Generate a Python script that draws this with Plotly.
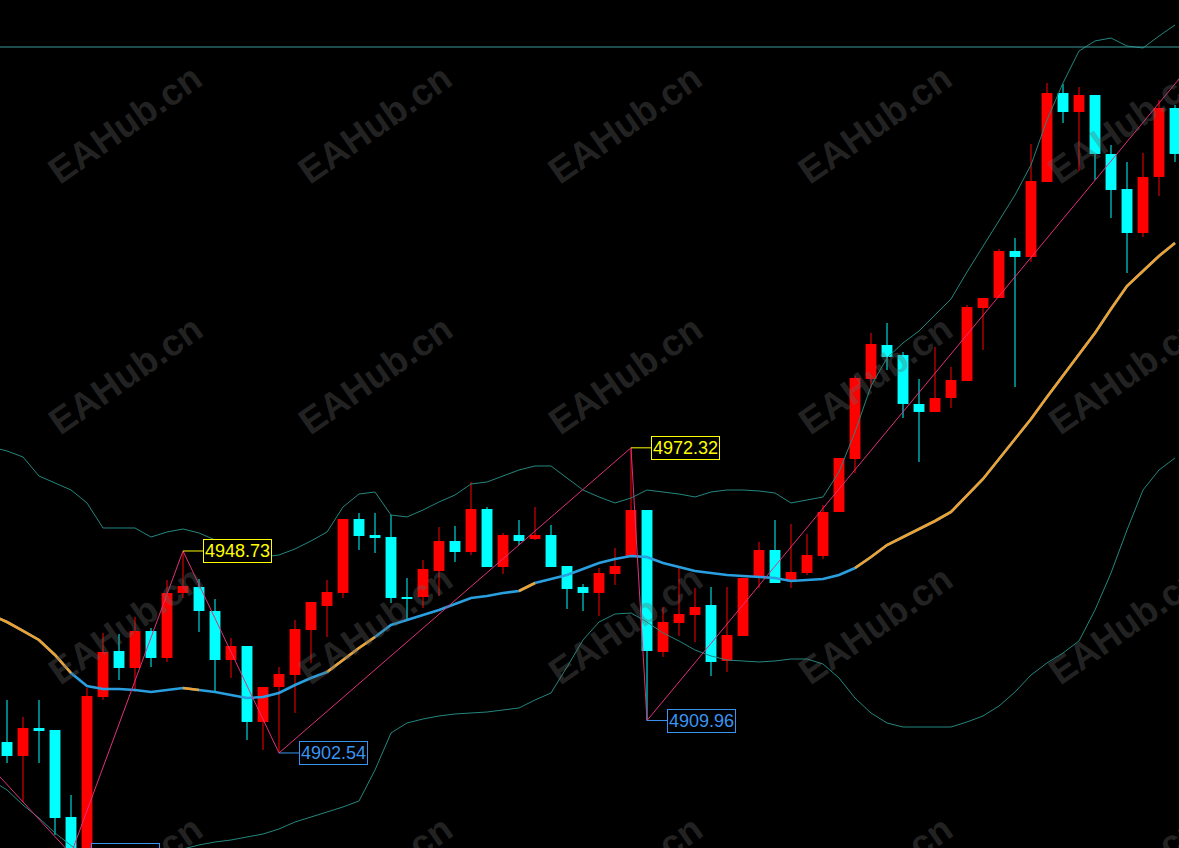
import plotly.graph_objects as go

# ---------------- data ----------------
candle_index = list(range(74))
opens = [4905.05, 4901.85, 4908.25, 4907.80, 4887.90, 4880.35, 4915.34, 4925.86, 4921.97, 4930.44,
         4924.26, 4939.13, 4940.50, 4935.01, 4923.80, 4927.01, 4909.63, 4917.63, 4920.37, 4930.66,
         4936.15, 4939.13, 4956.05, 4952.39, 4951.93, 4938.21, 4938.21, 4944.16, 4951.02, 4948.50,
         4958.33, 4945.07, 4952.39, 4951.47, 4952.39, 4945.30, 4940.50, 4939.13, 4943.47, 4947.59,
         4958.11, 4925.63, 4932.27, 4934.09, 4936.38, 4923.58, 4929.29, 4943.01, 4948.96, 4942.10,
         4943.70, 4947.59, 4957.65, 4969.77, 4988.06, 4995.84, 4993.55, 4982.35, 4980.52, 4983.72,
         4987.61, 5004.30, 5006.59, 5017.33, 5015.96, 5033.11, 5053.47, 5049.12, 5053.01, 5039.52,
         5031.51, 5021.45, 5034.26, 5050.04]
highs = [4914.66, 4910.77, 4914.66, 4907.80, 4892.93, 4917.40, 4929.98, 4929.75, 4933.64, 4931.12,
         4942.10, 4948.73, 4942.33, 4937.75, 4928.83, 4927.01, 4917.63, 4922.20, 4932.95, 4937.07,
         4942.10, 4956.05, 4957.42, 4957.42, 4956.96, 4942.56, 4946.67, 4954.22, 4954.45, 4964.51,
         4958.79, 4952.85, 4955.82, 4958.79, 4954.68, 4945.30, 4941.18, 4944.84, 4949.42, 4972.32,
         4958.11, 4935.92, 4944.84, 4940.27, 4940.50, 4940.50, 4942.56, 4950.79, 4955.82, 4954.90,
         4952.62, 4959.25, 4970.00, 4988.75, 4998.58, 5000.87, 4994.24, 4988.06, 4995.38, 4990.81,
         5004.99, 5006.59, 5017.79, 5020.31, 5041.80, 5055.75, 5055.52, 5054.84, 5053.01, 5041.57,
         5037.69, 5039.75, 5051.87, 5050.72]
lows = [4900.25, 4891.33, 4900.25, 4883.79, 4879.44, 4879.90, 4914.66, 4919.23, 4916.49, 4922.20,
        4923.35, 4937.98, 4930.21, 4916.26, 4919.69, 4905.51, 4903.22, 4902.54, 4911.68, 4923.12,
        4929.06, 4937.98, 4948.96, 4948.27, 4936.84, 4932.95, 4935.70, 4938.44, 4946.21, 4947.82,
        4945.07, 4943.47, 4950.10, 4951.25, 4945.07, 4935.47, 4935.01, 4933.87, 4940.96, 4947.59,
        4909.96, 4924.49, 4929.29, 4927.92, 4920.15, 4921.06, 4929.29, 4940.27, 4941.41, 4940.27,
        4943.24, 4946.90, 4957.65, 4966.57, 4986.01, 4990.12, 4979.14, 4969.08, 4980.52, 4981.43,
        4987.61, 4994.70, 5006.59, 4986.23, 5014.82, 5033.11, 5046.61, 5035.63, 5033.57, 5024.88,
        5012.30, 5020.54, 5029.91, 5037.69]
closes = [4901.85, 4908.25, 4907.57, 4887.67, 4880.58, 4915.57, 4925.63, 4921.97, 4930.44, 4924.26,
          4939.13, 4940.73, 4935.01, 4923.80, 4927.01, 4909.63, 4917.63, 4920.60, 4930.89, 4937.07,
          4939.35, 4956.05, 4952.16, 4951.70, 4937.98, 4937.75, 4944.61, 4951.02, 4948.50, 4958.33,
          4945.07, 4952.39, 4951.02, 4952.39, 4945.07, 4940.04, 4939.13, 4943.70, 4945.30, 4958.11,
          4925.86, 4932.49, 4934.32, 4935.92, 4923.35, 4929.52, 4942.56, 4948.96, 4941.41, 4943.93,
          4947.82, 4957.65, 4970.00, 4988.29, 4996.07, 4993.09, 4982.35, 4980.52, 4983.72, 4987.83,
          5004.53, 5006.59, 5017.33, 5015.96, 5033.34, 5053.47, 5049.12, 5053.01, 5039.52, 5031.28,
          5021.45, 5034.26, 5050.04, 5039.52]

band_index = list(range(-1, 74))
bb_upper = [4972.51, 4971.60, 4970.23, 4965.88, 4964.28, 4962.68, 4959.71, 4953.99, 4953.99, 4953.99,
            4951.93, 4953.07, 4953.76, 4952.85, 4951.25, 4949.64, 4948.50, 4947.36, 4947.82, 4949.19,
            4951.02, 4953.07, 4958.79, 4961.76, 4962.22, 4956.96, 4956.51, 4958.11, 4959.94, 4961.54,
            4964.05, 4964.51, 4965.88, 4967.25, 4968.17, 4968.17, 4965.42, 4962.68, 4961.08, 4959.71,
            4960.85, 4962.68, 4962.22, 4961.76, 4961.08, 4962.22, 4962.68, 4962.68, 4962.45, 4961.99,
            4959.71, 4960.39, 4961.08, 4966.80, 4975.94, 4986.46, 4992.87, 4996.30, 4999.04, 5002.70,
            5006.36, 5012.53, 5018.48, 5024.19, 5030.14, 5037.00, 5047.29, 5055.75, 5063.07, 5065.36,
            5066.04, 5064.21, 5063.76, 5066.50, 5069.02]
bb_middle = [4934.09,
             4932.49, 4930.44, 4928.38, 4924.95, 4920.83, 4917.86, 4917.17, 4917.17, 4916.94, 4916.49,
             4916.94, 4917.40, 4916.94, 4916.49, 4915.80, 4915.11, 4915.34, 4916.26, 4918.09, 4919.69,
             4921.06, 4923.80, 4926.55, 4929.06, 4931.81, 4932.95, 4934.09, 4935.24, 4936.61, 4937.98,
             4938.44, 4939.13, 4939.58, 4941.41, 4942.33, 4943.24, 4944.61, 4945.99, 4946.90, 4947.59,
             4947.36, 4945.99, 4945.07, 4944.16, 4943.70, 4943.24, 4943.01, 4942.78, 4942.56, 4941.87,
             4942.10, 4942.33, 4943.24, 4944.84, 4947.36, 4950.10, 4951.93, 4953.76, 4955.59, 4957.65,
             4961.54, 4965.20, 4969.77, 4974.34, 4978.92, 4983.95, 4988.75, 4993.55, 4998.58, 5004.07,
             5009.33, 5012.76, 5016.19, 5019.16]
bb_lower = [4896.36,
            4894.08, 4890.65, 4887.67, 4884.24, 4881.27, 4878.53, 4876.70, 4875.78, 4875.78, 4876.70,
            4878.53, 4880.58, 4881.50, 4882.18, 4882.64, 4883.33, 4884.01, 4885.16, 4886.76, 4887.90,
            4889.04, 4890.19, 4891.56, 4898.65, 4907.11, 4909.40, 4910.31, 4911.00, 4911.46, 4911.68,
            4911.91, 4912.37, 4912.83, 4914.66, 4916.26, 4922.20, 4928.38, 4932.49, 4934.32, 4934.55,
            4932.49, 4929.98, 4928.15, 4926.09, 4924.72, 4923.80, 4923.58, 4923.35, 4923.58, 4924.03,
            4924.03, 4922.89, 4919.69, 4915.11, 4911.68, 4909.40, 4908.48, 4908.48, 4908.48, 4908.48,
            4909.63, 4911.00, 4913.28, 4916.49, 4920.37, 4923.12, 4925.40, 4928.15, 4935.24, 4943.70,
            4953.53, 4962.68, 4967.25, 4970.00]
# index ranges where the middle band is drawn orange
middle_orange_ranges = [(-1, 4), (11, 12), (20, 23), (32, 33), (53, 73)]

zigzag_index = [-5, 4, 11, 17, 39, 40, 76]
zigzag_price = [4915.16, 4879.44, 4948.73, 4902.54, 4972.32, 4909.96, 5068.79]

label_index = [4, 11, 17, 39, 40]
label_price = [4879.44, 4948.73, 4902.54, 4972.32, 4909.96]
label_is_high = [False, True, False, True, False]

level_line = 5063.98
watermark_text = "EAHub.cn"

# ---------------- styles ----------------
UP = "#ff0000"
DOWN = "#00ffff"
BAND = "#23877f"
MID_BLUE = "#2a9fe0"
MID_ORANGE = "#f0a030"
ZIGZAG = "#e0307a"
HIGH_LBL = "#ffff00"
LOW_LBL = "#3b93f0"
Y_RANGE = [4880.81, 5074.73]

fig = go.Figure()

# candle bodies
body_base = [min(o, c) for o, c in zip(opens, closes)]
body_h = [max(abs(c - o), 0.45) for o, c in zip(opens, closes)]
colors = [UP if c >= o else DOWN for o, c in zip(opens, closes)]
fig.add_trace(go.Bar(x=candle_index, y=body_h, base=body_base, width=0.68,
                     marker=dict(color=colors, line=dict(width=0)), hoverinfo="skip"))

# wicks
for col in (UP, DOWN):
    wx, wy = [], []
    for i, o, h, l, c in zip(candle_index, opens, highs, lows, closes):
        if (UP if c >= o else DOWN) == col:
            wx += [i, i, None]
            wy += [l, h, None]
    fig.add_trace(go.Scatter(x=wx, y=wy, mode="lines", line=dict(color=col, width=1),
                             hoverinfo="skip"))

# Bollinger bands
fig.add_trace(go.Scatter(x=band_index, y=bb_upper, mode="lines",
                         line=dict(color=BAND, width=1), hoverinfo="skip"))
fig.add_trace(go.Scatter(x=band_index, y=bb_lower, mode="lines",
                         line=dict(color=BAND, width=1), hoverinfo="skip"))
fig.add_trace(go.Scatter(x=band_index, y=bb_middle, mode="lines",
                         line=dict(color=MID_BLUE, width=2.6), hoverinfo="skip"))
for a, b in middle_orange_ranges:
    xs = [i for i in band_index if a <= i <= b]
    ys = [v for i, v in zip(band_index, bb_middle) if a <= i <= b]
    fig.add_trace(go.Scatter(x=xs, y=ys, mode="lines",
                             line=dict(color=MID_ORANGE, width=2.6), hoverinfo="skip"))

# zigzag
fig.add_trace(go.Scatter(x=zigzag_index, y=zigzag_price, mode="lines",
                         line=dict(color=ZIGZAG, width=1), hoverinfo="skip"))

# horizontal level
fig.add_shape(type="line", xref="paper", x0=0, x1=1, yref="y", y0=level_line, y1=level_line,
              line=dict(color="#3a9a9a", width=1))

# watermarks
W, H = 1179, 848
for cy in (125, 375, 625, 875):
    for cx in (125, 375, 625, 875, 1125):
        fig.add_annotation(x=cx / W, y=1 - cy / H, xref="paper", yref="paper",
                           text="<b>" + watermark_text + "</b>", showarrow=False, textangle=-35,
                           font=dict(family="Liberation Sans, Arial", size=37,
                                     color="rgba(100,100,100,0.36)"),
                           xanchor="center", yanchor="middle")

# pivot labels
for i, p, hi in zip(label_index, label_price, label_is_high):
    col = HIGH_LBL if hi else LOW_LBL
    shift = 0
    if Y_RANGE[0] <= p <= Y_RANGE[1]:
        yref, yv = "y", p
    else:  # pivot lies just outside the visible price range: place it in paper units
        yref, yv = "paper", (p - Y_RANGE[0]) / (Y_RANGE[1] - Y_RANGE[0])
        shift = -7
    fig.add_annotation(x=i, y=yv, xref="x", yref=yref, text=f"{p:.2f}",
                       showarrow=True, arrowhead=0, arrowwidth=1, arrowcolor=col,
                       ax=20, ay=0, xanchor="left", yanchor="middle", standoff=0, yshift=shift,
                       font=dict(family="Liberation Sans, Arial", size=18, color=col),
                       bordercolor=col, borderwidth=1, borderpad=1, bgcolor="#000000")

fig.update_layout(
    width=W, height=H,
    margin=dict(l=0, r=0, t=0, b=0),
    paper_bgcolor="#000000", plot_bgcolor="#000000",
    showlegend=False, hovermode=False, barmode="overlay",
    xaxis=dict(visible=False, range=[-0.4375, 73.25], fixedrange=True),
    yaxis=dict(visible=False, range=Y_RANGE, fixedrange=True),
)

fig.write_html("out.html", config={"displayModeBar": False},
               post_script="document.body.style.margin='0';document.body.style.padding='0';"
                           "document.body.style.background='#000';"
                           "document.documentElement.style.background='#000';")
